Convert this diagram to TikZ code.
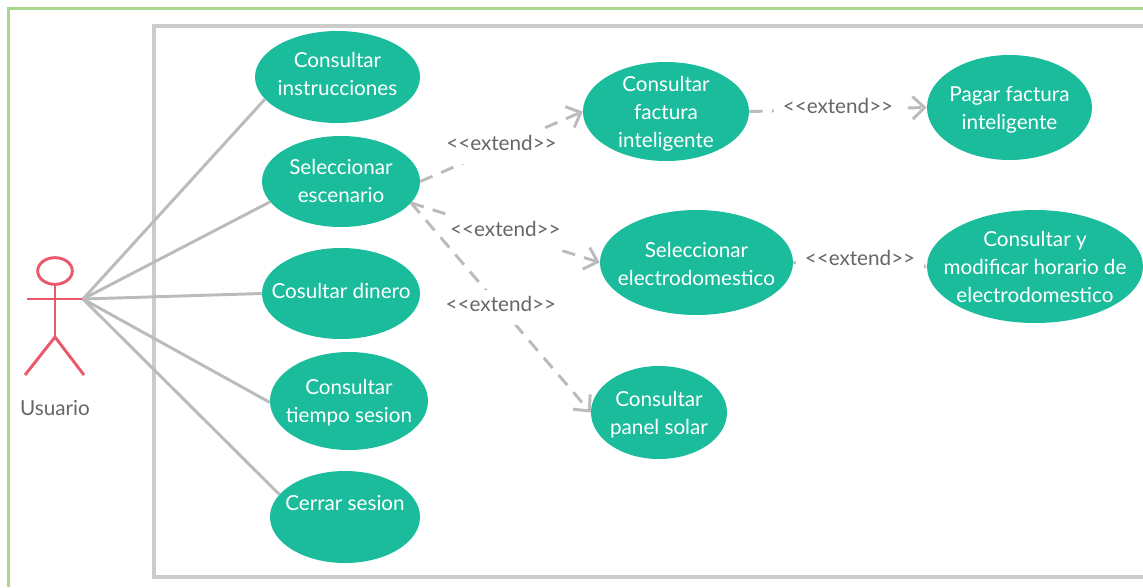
\documentclass[tikz,border=0pt]{standalone}
\usepackage{fontspec}
\setmainfont{Lato}
\usetikzlibrary{shapes.geometric,arrows.meta}
\definecolor{casegreen}{HTML}{1ABC9C}
\definecolor{linegray}{HTML}{BBBBBB}
\definecolor{actorred}{HTML}{E9596B}
\definecolor{textgray}{HTML}{666666}
\definecolor{framegreen}{HTML}{A9D88F}
\definecolor{framegray}{HTML}{CCCCCC}
\tikzset{
	usecase/.style={ellipse, fill=casegreen, text=white, inner sep=-30pt, align=center, text depth=10pt, font=\fontsize{15.5}{21}\selectfont},
	actorline/.style={line width=2.2pt, color=actorred},
	assoc/.style={line width=2.2pt, color=linegray},
	extendline/.style={line width=2.2pt, color=linegray, dashed, dash pattern=on 10pt off 7pt, -{Straight Barb[length=9pt,width=17pt,line width=2.2pt]}},
	extendlabel/.style={fill=white, text=textgray, inner sep=0, minimum width=96pt, text height=15.75pt, text depth=10.5pt, font=\fontsize{15.5}{15}\selectfont}
}
\begin{document}
\begin{tikzpicture}[x=0.75pt, y=-0.75pt]
	\useasboundingbox (0,0) rectangle (1143,587);
	% FRAMES
	\draw[line width=1.6pt, color=framegreen] (8.5,587) -- (8.5,8.5) -- (1143,8.5);
	\draw[line width=2.4pt, color=framegray] (1143,26) -- (154,26) -- (154,577) -- (1143,577);
	% USE CASES
	\node[usecase, minimum width=123.75pt, minimum height=69pt, text height=37pt] (instrucciones) at (337.5,77) {Consultar\\instrucciones};
	\node[usecase, minimum width=118.5pt, minimum height=68.25pt, text height=41.5pt] (escenario) at (341,181.5) {Seleccionar\\escenario};
	\node[usecase, minimum width=118.5pt, minimum height=68.25pt, text height=17.5pt] (dinero) at (341,293.5) {Cosultar dinero};
	\node[usecase, minimum width=118.5pt, minimum height=73.5pt, text height=41.5pt] (tiempo) at (349,401) {Consultar\\tiempo sesion};
	\node[usecase, minimum width=112.5pt, minimum height=69pt, text height=10pt, text depth=20.5pt] (cerrar) at (345,517) {Cerrar sesion};

	\node[usecase, minimum width=124.5pt, minimum height=74.25pt, text height=64pt] (factura) at (666,111.5) {Consultar\\factura\\inteligente};
	\node[usecase, minimum width=123.75pt, minimum height=78.75pt, text height=43pt] (pagar) at (1009.5,107.5) {Pagar factura\\inteligente};
	\node[usecase, minimum width=144.75pt, minimum height=78.75pt, text height=44.5pt] (electro) at (696.5,262.5) {Seleccionar\\electrodomestico};
	\node[usecase, minimum width=162pt, minimum height=84.75pt, text height=64pt] (horario) at (1035,266.5) {Consultar y\\modificar horario de\\electrodomestico};
	\node[usecase, minimum width=102pt, minimum height=69.75pt, text height=43pt] (panel) at (659,412.5) {Consultar\\panel solar};
	% ACTOR
	\node[ellipse, draw, actorline, minimum width=26pt, minimum height=20pt, inner sep=0] (cabeza) at (55,271) {};
	\coordinate (mano) at (83,299);
	\coordinate (cadera) at (55,337);
	\draw[actorline] (cabeza) -- (cadera);
	\draw[actorline] (27,299) -- (mano);
	\draw[actorline] (25,375) -- (cadera) -- (84,375);
	\node[text=textgray, font=\fontsize{15.5}{21}\selectfont] (usuario) at (55,408) {Usuario};
	% ASSOCIATIONS
	\draw[assoc] (mano) -- (instrucciones.197);
	\draw[assoc] (mano) -- (escenario.196);
	\draw[assoc] (mano) -- (dinero.west);
	\draw[assoc] (mano) -- (tiempo.181);
	\draw[assoc] (mano) -- (cerrar.161);
	% EXTEND
	\draw[extendline] (escenario.east) -- node[extendlabel] (ext1) {<{}<extend>{}>} (factura.west);
	\draw[extendline] (escenario.-17) -- node[extendlabel] (ext2) {<{}<extend>{}>} (electro.west);
	\draw[extendline] (escenario.-17) -- node[extendlabel] (ext3) {<{}<extend>{}>} (panel.west);
	\draw[extendline] (factura.east) -- node[extendlabel] (ext4) {<{}<extend>{}>} (pagar.west);
	\draw[extendline] (electro.east) -- node[extendlabel, text height=13.5pt, text depth=12.75pt] (ext5) {<{}<extend>{}>} (horario.west);
\end{tikzpicture}
\end{document}
